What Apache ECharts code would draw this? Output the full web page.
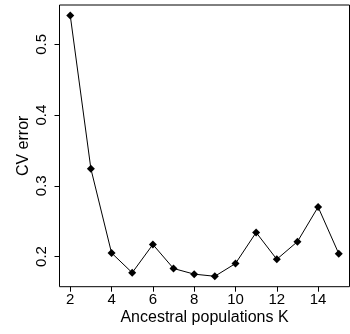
<!DOCTYPE html>
<html>
<head>
<meta charset="utf-8">
<script src="https://cdn.jsdelivr.net/npm/echarts@6/dist/echarts.min.js"></script>
<style>
  html, body { margin: 0; padding: 0; background: #fff; }
  #chart { width: 350px; height: 334px; }
</style>
</head>
<body>
<div id="chart"></div>
<script>
// Cross-validation error by number of ancestral populations K
const kValues = [2, 3, 4, 5, 6, 7, 8, 9, 10, 11, 12, 13, 14, 15];
const cvError = [0.541, 0.324, 0.205, 0.177, 0.217, 0.183, 0.175, 0.172, 0.190, 0.234, 0.196, 0.221, 0.270, 0.204];
const xTicks = [2, 4, 6, 8, 10, 12, 14];
const yTicks = [0.2, 0.3, 0.4, 0.5];

const FONT = '"Liberation Sans", Arial, sans-serif';

// pad each axis range by 4% of the data span
const xSpan = Math.max(...kValues) - Math.min(...kValues);
const ySpan = Math.max(...cvError) - Math.min(...cvError);
const xMin = Math.min(...kValues) - 0.04 * xSpan;
const xMax = Math.max(...kValues) + 0.04 * xSpan;
const yMin = Math.min(...cvError) - 0.04 * ySpan;
const yMax = Math.max(...cvError) + 0.04 * ySpan;

const chart = echarts.init(document.getElementById('chart'), null, { renderer: 'canvas' });
chart.setOption({
  animation: false,
  backgroundColor: '#ffffff',
  grid: {
    left: 59.5, right: 0.5, top: 5, bottom: 47.3,
    show: true, borderColor: '#000', borderWidth: 1, backgroundColor: 'transparent'
  },
  xAxis: {
    type: 'value', min: xMin, max: xMax,
    name: 'Ancestral populations K', nameLocation: 'middle', nameGap: 23, nameMoveOverlap: false,
    nameTextStyle: { fontFamily: FONT, fontSize: 16, color: '#000' },
    axisLine: { show: false },
    splitLine: { show: false },
    axisTick: { show: true, customValues: xTicks, length: 5, inside: false, lineStyle: { color: '#000', width: 1 } },
    axisLabel: { customValues: xTicks, margin: 6, fontFamily: FONT, fontSize: 15, color: '#000' }
  },
  yAxis: {
    type: 'value', min: yMin, max: yMax,
    name: 'CV error', nameLocation: 'middle', nameGap: 28, nameMoveOverlap: false,
    nameTextStyle: { fontFamily: FONT, fontSize: 16, color: '#000' },
    axisLine: { show: false },
    splitLine: { show: false },
    axisTick: { show: true, customValues: yTicks, length: 5, inside: false, lineStyle: { color: '#000', width: 1 } },
    axisLabel: {
      customValues: yTicks, rotate: 90, margin: 10, fontFamily: FONT, fontSize: 15, color: '#000',
      formatter: v => v.toFixed(1)
    }
  },
  series: [{
    type: 'line',
    data: kValues.map((k, i) => [k, cvError[i]]),
    symbol: 'diamond',
    symbolSize: 8,
    lineStyle: { color: '#000', width: 1 },
    itemStyle: { color: '#000' },
    emphasis: { disabled: true }
  }]
});
</script>
</body>
</html>
